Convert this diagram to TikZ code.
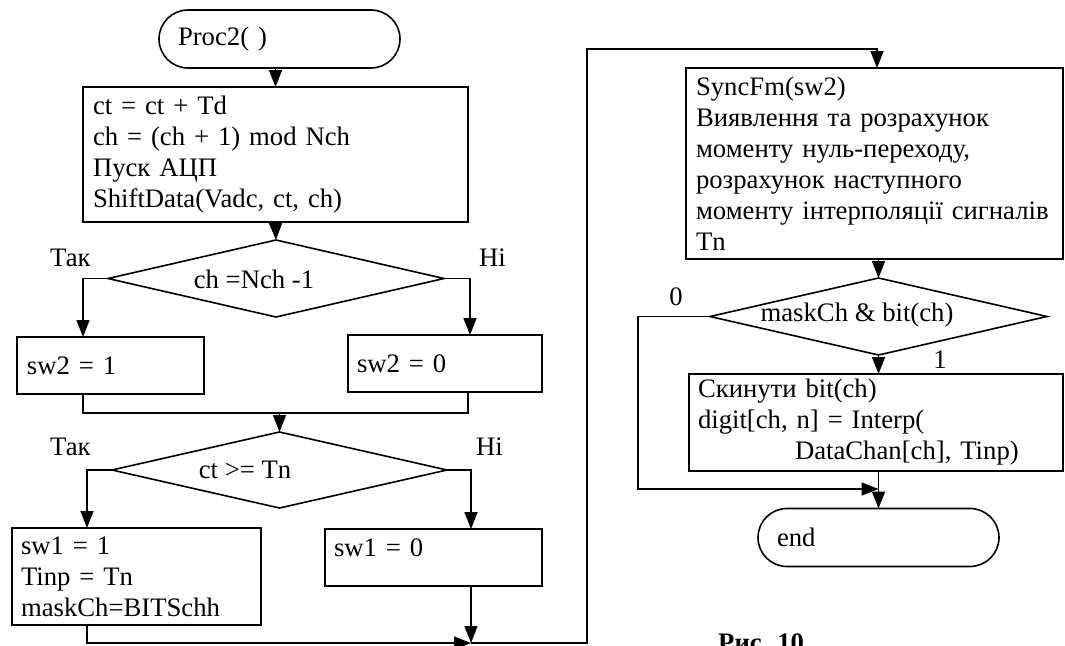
\documentclass[tikz,border=0pt]{standalone}
\usepackage{fontspec}
\setmainfont{Liberation Serif}
\usetikzlibrary{arrows.meta,shapes.geometric}

\begin{document}
\begin{tikzpicture}[x=1pt,y=-1pt,
  every node/.style={font=\fontsize{26.7}{31}\selectfont},
  line/.style={line width=1.6pt},
  flow/.style={line width=1.6pt,-{Triangle[length=17pt,width=13pt]}},
  proc/.style={draw,line width=1.6pt,rectangle,align=left,inner xsep=10pt,inner ysep=0pt,outer sep=0pt},
  term/.style={draw,line width=1.6pt,rectangle,rounded corners=29pt,align=left,inner xsep=19pt,inner ysep=0pt,outer sep=0pt,minimum width=241pt,minimum height=58pt,text width=203pt},
  decision/.style={draw,line width=1.6pt,diamond,inner sep=0pt,outer sep=0pt},
  lbl/.style={inner sep=0pt}
]
\useasboundingbox (0,0) rectangle (1065,645);

% left column
\node[term] (start) at (279.5,39) {Proc2(~)};
\node[proc, text width=365pt, minimum height=135pt] (b1) at (275.5,154.5)
  {ct = ct + Td\\ch = (ch + 1) mod Nch\\Пуск АЦП\\ShiftData(Vadc, ct, ch)};
\node[decision, minimum width=336pt, minimum height=77pt] (d1) at (276,278.5) {};
\node[lbl] (d1t) at (254,279) {ch =Nch -1};
\node[lbl,anchor=west] (yes1) at (50,258) {Так};
\node[lbl,anchor=west] (no1) at (479,258) {Ні};

\node[proc, inner xsep=10pt, text width=167pt, minimum height=57pt] (b2) at (110.5,365.5) {sw2 = 1};
\node[proc, inner xsep=9pt, text width=176pt, minimum height=57pt] (b3) at (445,363.5) {sw2 = 0};

\coordinate (j1) at (279.5,413);
\node[decision, minimum width=335pt, minimum height=76pt] (d2) at (279.5,470) {};
\node[lbl] (d2t) at (245,470) {ct >= Tn};
\node[lbl,anchor=west] (yes2) at (50,447) {Так};
\node[lbl,anchor=west] (no2) at (476,447) {Ні};

\node[proc, inner xsep=9pt, text width=231pt, minimum height=97pt] (b4) at (136.5,576.5)
  {sw1 = 1\\Tinp = Tn\\maskCh=BITSchh};
\node[proc, inner xsep=9pt, text width=199pt, text height=20pt, text depth=23pt, inner ysep=7pt] (b5) at (433.5,557.5) {sw1 = 0};

\coordinate (j2) at (471,643);
\coordinate (j3) at (587,643);
\coordinate (j4) at (587,49);

% right column
\node[proc, text width=357pt, minimum height=191pt] (b6) at (874.5,163.5)
  {SyncFm(sw2)\\Виявлення та розрахунок\\моменту нуль-переходу,\\розрахунок наступного\\моменту інтерполяції сигналів\\Tn};
\node[decision, minimum width=337pt, minimum height=77pt] (d3) at (878.5,316.5) {};
\node[lbl] (d3t) at (857,315) {maskCh \& bit(ch)};
\node[lbl] (zero) at (676,297) {0};
\node[lbl] (one) at (940,360) {1};
\node[proc, inner xsep=9pt, text width=356pt, minimum height=97pt] (b7) at (876,422.5)
  {Скинути bit(ch)\\digit[ch, n] = Interp(\\\hspace*{97pt}DataChan[ch], Tinp)};
\coordinate (j5) at (638,489);
\coordinate (j6) at (878.5,489);
\node[term] (stop) at (878.5,537.5) {end};
\node[lbl,anchor=base west,font=\bfseries\fontsize{26.7}{31}\selectfont] (cap) at (718,651) {Рис. 10};

% connectors
\draw[flow] (start.south -| b1.north) -- (b1.north);
\draw[flow] (b1.south) -- (d1.north);
\draw[flow] (d1.west) -| ([xshift=-27.5pt]b2.north);
\draw[flow] (d1.east) -| ([xshift=25pt]b3.north);
\draw[line] ([xshift=-27.5pt]b2.south) |- (j1 -| b3.south) -- ([xshift=23pt]b3.south |- j1) -- ([xshift=23pt]b3.south);
\draw[flow] (j1) -- (d2.north);
\draw[flow] (d2.west) -| ([xshift=-49.5pt]b4.north);
\draw[flow] (d2.east) -| ([xshift=37.5pt]b5.north);
\draw[flow] ([xshift=-49.5pt]b4.south) |- (j2);
\draw[flow] ([xshift=37.5pt]b5.south) -- (j2);
\draw[flow] (j2) -- (j3) -- (j4) -| ([xshift=2.5pt]b6.north);
\draw[flow] (d3.north |- b6.south) -- (d3.north);
\draw[flow] (d3.south) -- (d3.south |- b7.north);
\draw[flow] (d3.west) -| (j5) -- (j6);
\draw[flow] (j6 |- b7.south) -- (stop.north);
\end{tikzpicture}
\end{document}
